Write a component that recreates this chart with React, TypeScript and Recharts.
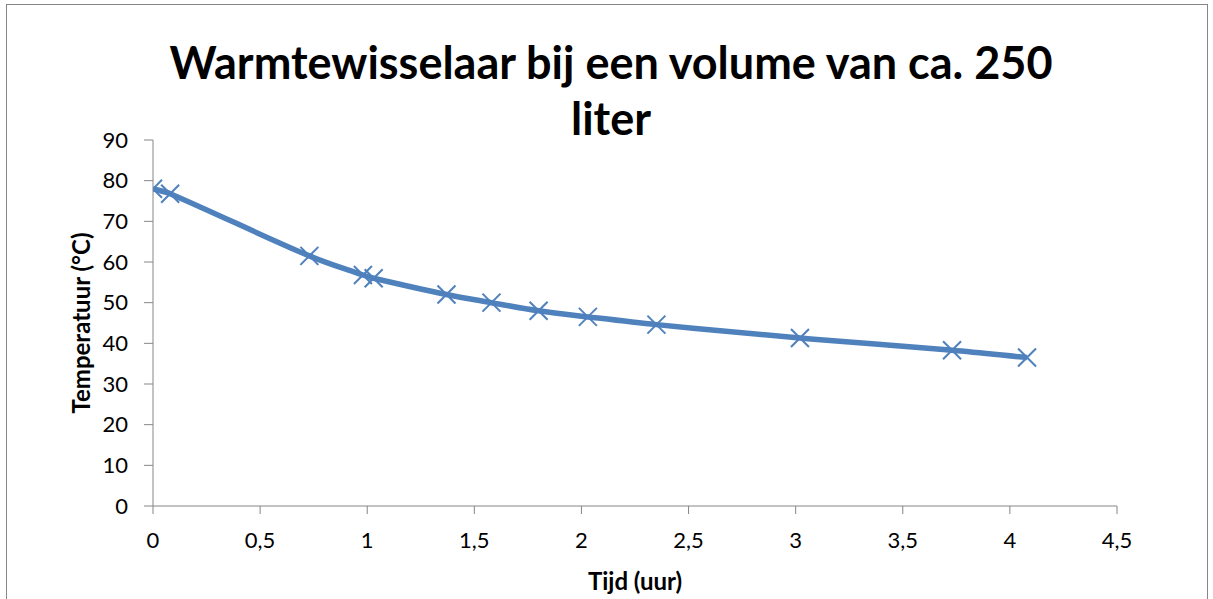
import { LineChart, Line, XAxis, YAxis } from 'recharts'

const hours = [0, 0.08, 0.73, 0.98, 1.03, 1.37, 1.58, 1.8, 2.03, 2.35, 3.02, 3.73, 4.08]
const temps = [78, 76.8, 61.5, 56.8, 56, 52, 50, 48, 46.5, 44.6, 41.3, 38.3, 36.5]
const xTicks = [0, 0.5, 1, 1.5, 2, 2.5, 3, 3.5, 4, 4.5]
const yTicks = [0, 10, 20, 30, 40, 50, 60, 70, 80, 90]

const data = hours.map((h, i) => ({ h, t: temps[i] }))

const BLUE = '#4F81BD'
const AXIS = '#868686'
const FONT = 'Lato, "Open Sans", sans-serif'

// smooth curve like Excel's "smoothed line": tangent from neighbours,
// handle length a third of the segment so close points don't loop
function excelSmooth(context: any) {
  let pts: number[][] = []
  return {
    areaStart() {},
    areaEnd() {},
    lineStart() {
      pts = []
    },
    point(x: number, y: number) {
      pts.push([+x, +y])
    },
    lineEnd() {
      const n = pts.length
      if (!n) return
      context.moveTo(pts[0][0], pts[0][1])
      const tan = pts.map((p, i) => {
        const a = pts[Math.max(0, i - 1)]
        const b = pts[Math.min(n - 1, i + 1)]
        const dx = b[0] - a[0]
        const dy = b[1] - a[1]
        const len = Math.hypot(dx, dy) || 1
        return [dx / len, dy / len]
      })
      for (let i = 0; i < n - 1; i++) {
        const p = pts[i]
        const q = pts[i + 1]
        const d = Math.hypot(q[0] - p[0], q[1] - p[1]) / 3
        context.bezierCurveTo(
          p[0] + tan[i][0] * d,
          p[1] + tan[i][1] * d,
          q[0] - tan[i + 1][0] * d,
          q[1] - tan[i + 1][1] * d,
          q[0],
          q[1],
        )
      }
    },
  }
}

function Cross(props: any) {
  const { cx, cy } = props
  if (cx == null || cy == null) return null
  const r = 9
  return (
    <g stroke={BLUE} strokeWidth={2}>
      <line x1={cx - r} y1={cy - r} x2={cx + r} y2={cy + r} />
      <line x1={cx - r} y1={cy + r} x2={cx + r} y2={cy - r} />
    </g>
  )
}

function YTitle(props: any) {
  const vb = props.viewBox
  const x = vb.x + 17
  const y = vb.y + vb.height / 2
  return (
    <text
      x={x}
      y={y}
      transform={`rotate(-90 ${x} ${y})`}
      textAnchor="middle"
      dominantBaseline="central"
      fontFamily={FONT}
      fontWeight={700}
      fontSize={24}
      fill="#000"
    >
      Temperatuur (°C)
    </text>
  )
}

export default function App() {
  return (
    <div style={{ position: 'absolute', left: 0, top: 0, width: 1213, height: 599, background: '#fff', overflow: 'hidden', fontFamily: FONT }}>
      <div
        style={{
          position: 'absolute',
          left: 6,
          top: 4,
          width: 1200,
          height: 620,
          border: `1px solid ${AXIS}`,
        }}
      />
      <div
        style={{
          position: 'absolute',
          left: 0,
          top: 34,
          width: 1222,
          textAlign: 'center',
          fontSize: 45,
          fontWeight: 700,
          lineHeight: '56px',
          color: '#000',
        }}
      >
        Warmtewisselaar bij een volume van ca. 250
        <br />
        liter
      </div>
      <LineChart
        width={1213}
        height={599}
        data={data}
        margin={{ top: 140, right: 96, bottom: 0, left: 63 }}
        style={{ position: 'absolute', left: 0, top: 0 }}
      >
        <XAxis
          dataKey="h"
          type="number"
          domain={[0, 4.5]}
          ticks={xTicks}
          allowDataOverflow
          height={93}
          tickSize={8}
          tickMargin={18}
          stroke={AXIS}
          tick={{ fontSize: 22, fill: '#000', fontFamily: FONT }}
          tickFormatter={(v: number) => String(v).replace('.', ',')}
          label={{
            value: 'Tijd (uur)',
            position: 'insideBottom',
            offset: 9,
            fontSize: 24,
            fontWeight: 700,
            fill: '#000',
            fontFamily: FONT,
          }}
        />
        <YAxis
          type="number"
          domain={[0, 90]}
          ticks={yTicks}
          width={90}
          tickSize={9}
          tickMargin={16}
          stroke={AXIS}
          tick={{ fontSize: 22, fill: '#000', fontFamily: FONT }}
          label={<YTitle />}
        />
        <Line
          dataKey="t"
          type={excelSmooth as any}
          stroke={BLUE}
          strokeWidth={5.5}
          dot={<Cross />}
          activeDot={false}
          isAnimationActive={false}
        />
      </LineChart>
    </div>
  )
}
